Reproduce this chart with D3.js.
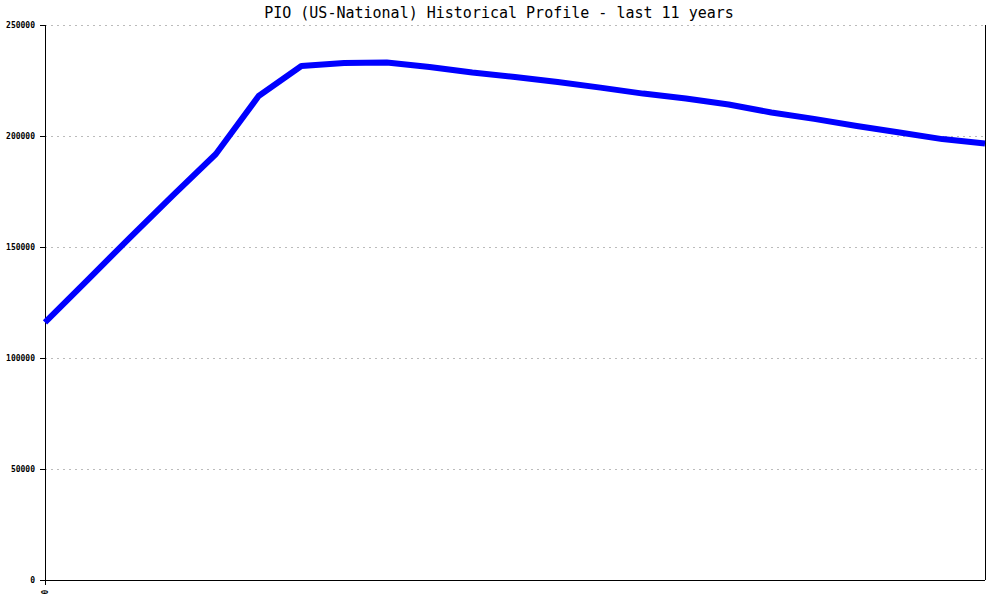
<!DOCTYPE html>
<html>
<head>
<meta charset="utf-8">
<script src="https://cdn.jsdelivr.net/npm/d3@7"></script>
<style>
  body { margin: 0; background: #fff; }
  svg { display: block; }
</style>
</head>
<body>
<div id="chart"></div>
<script>
// PIO historical profile, one point every 6 months over 11 years

var months = [0, 6, 12, 18, 24, 30, 36, 42, 48, 54, 60, 66, 72, 78, 84, 90, 96, 102, 108, 114, 120, 126, 132];
var values = [116000, 135200, 154500, 173400, 191900, 218000, 231500, 232900, 233100, 231100, 228600,
              226600, 224300, 221800, 219100, 216900, 214200, 210600, 207700, 204500, 201600, 198600, 196600];
var yTicks = [0, 50000, 100000, 150000, 200000, 250000];
var xTicks = [0];
var title = "PIO (US-National) Historical Profile - last 11 years";

var data = months.map(function (m, i) { return {m: m, v: values[i]}; });

var W = 1000, H = 600;
var margin = {top: 25, right: 15, bottom: 20, left: 45},
    width = W - margin.left - margin.right,
    height = H - margin.top - margin.bottom;

var svg = d3.select("#chart")
    .append("svg")
    .attr("width", W)
    .attr("height", H);

var g = svg.append("g")
    .attr("transform", "translate(" + margin.left + "," + margin.top + ")");

var x = d3.scaleLinear()
    .domain([0, 132])
    .range([0, width]);

var y = d3.scaleLinear()
    .domain([0, 250000])
    .range([height, 0]);

// title
svg.append("text")
    .attr("x", 499)
    .attr("y", 18)
    .attr("text-anchor", "middle")
    .style("font-family", "'DejaVu Sans Mono', monospace")
    .style("font-size", "15px")
    .text(title);

// dashed grid lines
g.selectAll("line.grid")
    .data(yTicks.filter(function (d) { return d > 0; }))
    .enter().append("line")
    .attr("class", "grid")
    .attr("x1", 0)
    .attr("x2", width)
    .attr("y1", function (d) { return y(d); })
    .attr("y2", function (d) { return y(d); })
    .attr("stroke", "#bbbbbb")
    .attr("stroke-width", 1)
    .attr("stroke-dasharray", "2,4")
    .attr("shape-rendering", "crispEdges");

// Y axis
var yAxis = g.append("g")
    .call(d3.axisLeft(y).tickValues(yTicks).tickSize(5).tickPadding(5).tickFormat(d3.format("d")));
yAxis.selectAll("path, line")
    .attr("stroke", "#000")
    .attr("shape-rendering", "crispEdges");
yAxis.select(".domain").attr("d", "M0," + height + "V0");
yAxis.selectAll("text")
    .style("font-family", "'DejaVu Sans Mono', monospace")
    .style("font-size", "8px")
    .style("font-weight", "bold");

// X axis
var xAxis = g.append("g")
    .attr("transform", "translate(0," + height + ")")
    .call(d3.axisBottom(x).tickValues(xTicks).tickSize(5).tickFormat(d3.format("d")));
xAxis.selectAll("path, line")
    .attr("stroke", "#000")
    .attr("shape-rendering", "crispEdges");
xAxis.select(".domain").attr("d", "M0,0H" + width);
xAxis.selectAll("text")
    .style("font-family", "'DejaVu Sans Mono', monospace")
    .style("font-size", "8px")
    .style("font-weight", "bold")
    .attr("text-anchor", "middle")
    .attr("transform", "translate(0,12) rotate(-90)")
    .attr("y", 0)
    .attr("dy", "0.35em");

// right frame line
g.append("line")
    .attr("x1", width)
    .attr("x2", width)
    .attr("y1", 0)
    .attr("y2", height)
    .attr("stroke", "#000")
    .attr("shape-rendering", "crispEdges");

// the line
var line = d3.line()
    .x(function (d) { return x(d.m); })
    .y(function (d) { return y(d.v); });

g.append("path")
    .datum(data)
    .attr("fill", "none")
    .attr("stroke", "#0000ff")
    .attr("stroke-width", 6)
    .attr("stroke-linejoin", "round")
    .attr("d", line);
</script>
</body>
</html>
